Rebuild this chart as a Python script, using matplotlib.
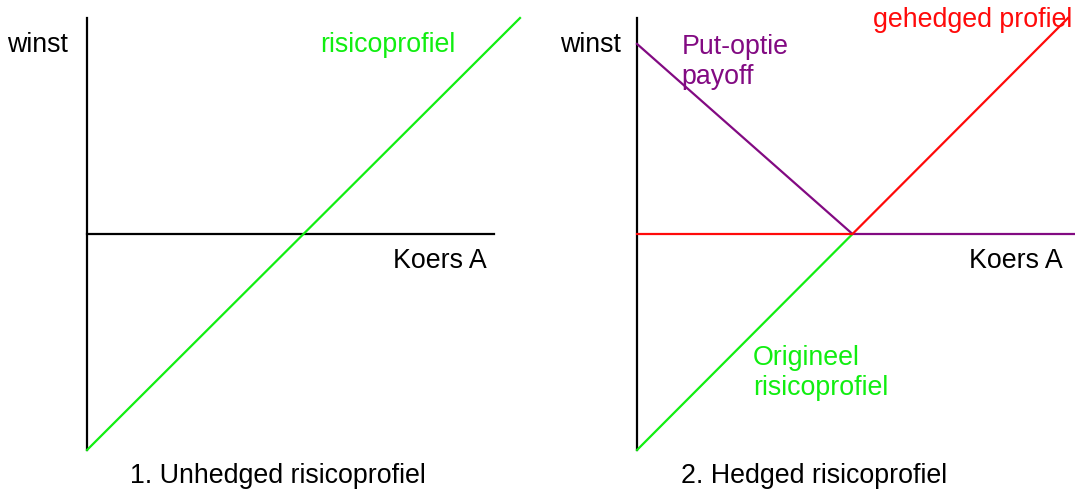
import matplotlib
matplotlib.use("Agg")
import matplotlib.pyplot as plt

plt.rcParams['font.family'] = ['Liberation Sans', 'DejaVu Sans']

# =========================
# Data (koers A vs winst)
# =========================
koers_unhedged = [0, 10]
winst_unhedged = [-5, 5]

koers_orig = [0, 5]
winst_orig = [-5, 0]

koers_hedged = [0, 5, 10]
winst_hedged = [0, 0, 5]

koers_put = [0, 5, 10.2]
winst_put = [4.4, 0, 0]

GREEN = "#11ee11"
RED = "#ff0a0a"
PURPLE = "#820a82"
FS = 19.3
W, H = 1075, 490

fig = plt.figure(figsize=(W / 100, H / 100), dpi=100)

# =========================
# Panel 1: unhedged
# =========================
ax1 = fig.add_axes([87 / W, 40 / H, 433 / W, 432 / H])
ax1.set_xlim(0, 10)
ax1.set_ylim(-5, 5)
ax1.axis("off")
ax1.plot([0, 0], [-5, 5], color="black", lw=1.6, clip_on=False)
ax1.plot([0, 9.4], [0, 0], color="black", lw=1.6, clip_on=False)
ax1.plot(koers_unhedged, winst_unhedged, color=GREEN, lw=1.6, clip_on=False)
ax1.text(-0.44, 4.37, "winst", fontsize=FS, ha="right", va="center")
ax1.text(5.38, 4.37, "risicoprofiel", fontsize=FS, ha="left", va="center", color=GREEN)
ax1.text(9.24, -0.62, "Koers A", fontsize=FS, ha="right", va="center")
ax1.text(4.4, -5.6, "1. Unhedged risicoprofiel", fontsize=FS, ha="center", va="center")

# =========================
# Panel 2: hedged
# =========================
ax2 = fig.add_axes([637 / W, 40 / H, 438 / W, 432 / H])
ax2.set_xlim(0, 438 / 43.1)
ax2.set_ylim(-5, 5)
ax2.axis("off")
ax2.plot([0, 0], [-5, 5], color="black", lw=1.6, clip_on=False)
ax2.plot(koers_orig, winst_orig, color=GREEN, lw=1.6, clip_on=False)
ax2.plot(koers_put, winst_put, color=PURPLE, lw=1.6, clip_on=False)
ax2.plot(koers_hedged, winst_hedged, color=RED, lw=1.6, clip_on=False)
ax2.text(-0.37, 4.37, "winst", fontsize=FS, ha="right", va="center")
ax2.text(1.04, 4.63, "Put-optie\npayoff", fontsize=FS, ha="left", va="top",
         color=PURPLE, linespacing=1.22)
ax2.text(5.48, 4.95, "gehedged profiel", fontsize=FS, ha="left", va="center", color=RED)
ax2.text(9.88, -0.62, "Koers A", fontsize=FS, ha="right", va="center")
ax2.text(2.69, -2.57, "Origineel\nrisicoprofiel", fontsize=FS, ha="left", va="top",
         color=GREEN, linespacing=1.22)
ax2.text(4.1, -5.6, "2. Hedged risicoprofiel", fontsize=FS, ha="center", va="center")

fig.savefig("out.png", dpi=100)
